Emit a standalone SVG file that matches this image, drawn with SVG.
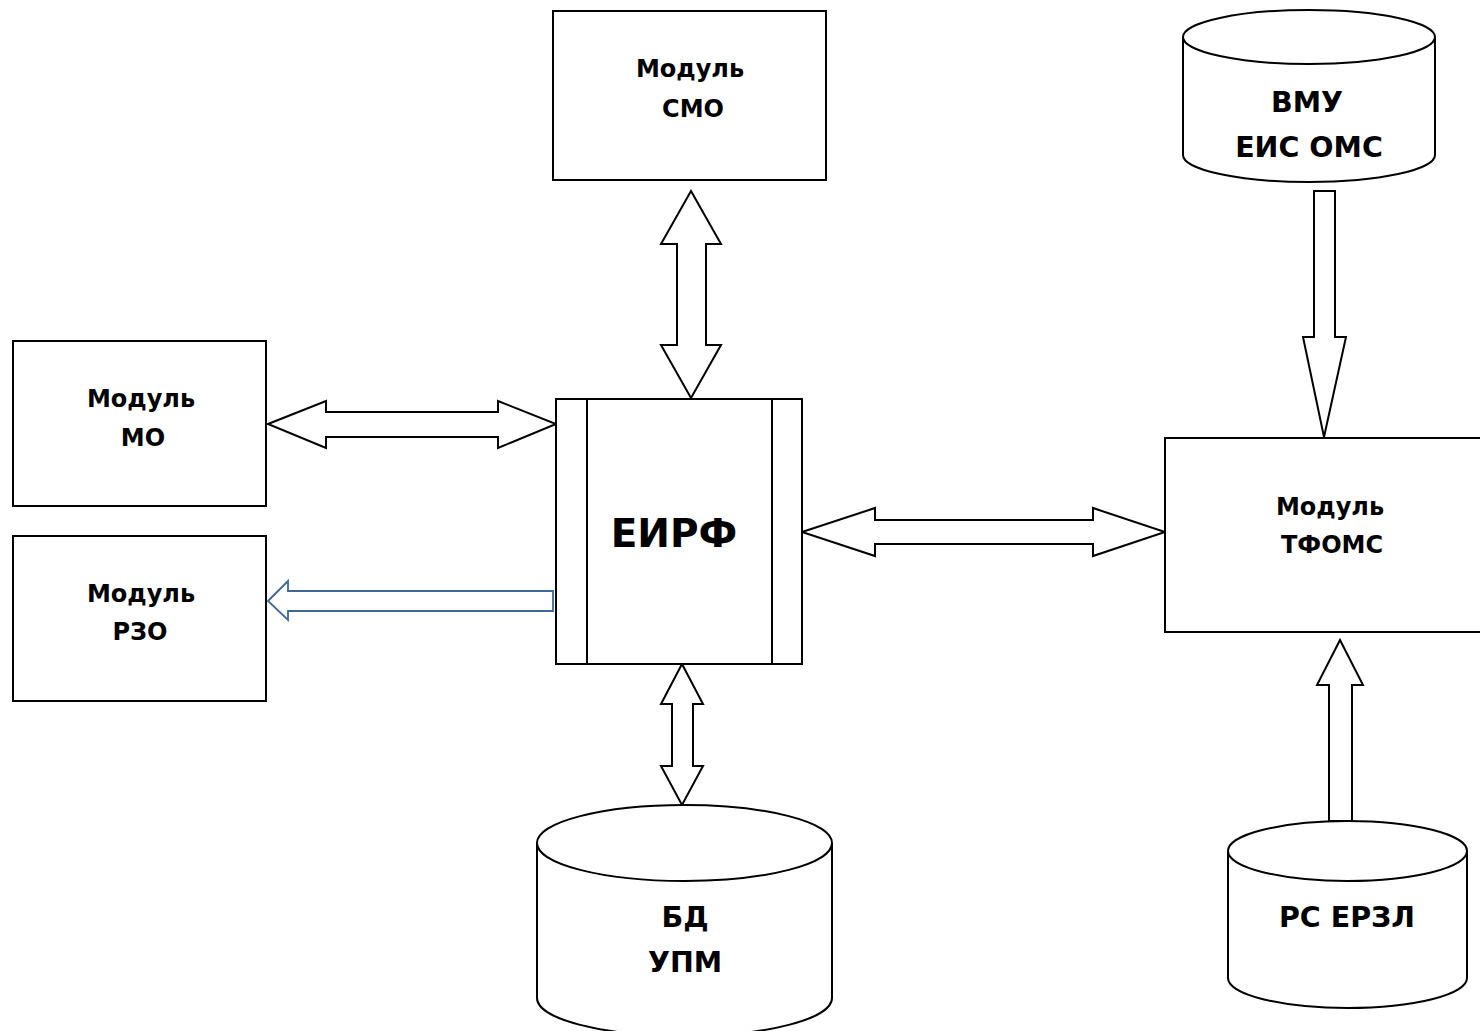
<svg xmlns="http://www.w3.org/2000/svg" width="1480" height="1031" viewBox="0 0 1480 1031">
<style>
  .box { fill: #fff; stroke: #000; stroke-width: 2; }
  .arr { fill: #fff; stroke: #000; stroke-width: 2; stroke-linejoin: miter; }
  .arrb { fill: #fff; stroke: #3D6797; stroke-width: 1.8; }
  .t { font-family: "DejaVu Sans", "Open Sans", "Liberation Sans", sans-serif; font-weight: bold; fill: #000; text-anchor: middle; }
  .s { font-size: 24px; }
  .m { font-size: 28.5px; }
  .l { font-size: 39px; }
</style>
<rect width="1480" height="1031" fill="#fff"/>

<g id="connectors">
  <!-- СМО <-> ЕИРФ -->
  <path class="arr" d="M691,191 L721,244 L706,244 L706,345 L721,345 L691,398 L661,345 L677,345 L677,244 L661,244 Z"/>
  <!-- МО <-> ЕИРФ -->
  <path class="arr" d="M268,424 L326,401 L326,412 L498,412 L498,401 L556,424 L498,448 L498,437 L326,437 L326,448 Z"/>
  <!-- ЕИРФ -> РЗО -->
  <path class="arrb" d="M268,601 L288,581 L288,591 L553,591 L553,611 L288,611 L288,620 Z"/>
  <!-- ЕИРФ <-> ТФОМС -->
  <path class="arr" d="M802,532 L875,508 L875,520 L1093,520 L1093,508 L1165,532 L1093,556 L1093,544 L875,544 L875,556 Z"/>
  <!-- ЕИРФ <-> БД УПМ -->
  <path class="arr" d="M682,664 L703,704 L693,704 L693,766 L703,766 L682,805 L661,766 L672,766 L672,704 L661,704 Z"/>
  <!-- ВМУ -> ТФОМС -->
  <path class="arr" d="M1314,191 L1335,191 L1335,337 L1346,337 L1324,437 L1303,337 L1314,337 Z"/>
  <!-- РС ЕРЗЛ -> ТФОМС -->
  <path class="arr" d="M1340,640 L1363,685 L1352,685 L1352,821 L1329,821 L1329,685 L1317,685 Z"/>
</g>

<g id="smo">
  <rect class="box" x="553" y="11" width="273" height="169"/>
  <text class="t s" x="690" y="77">Модуль</text>
  <text class="t s" x="693" y="117">СМО</text>
</g>

<g id="mo">
  <rect class="box" x="13" y="341" width="253" height="165"/>
  <text class="t s" x="141" y="407">Модуль</text>
  <text class="t s" x="143" y="446">МО</text>
</g>

<g id="rzo">
  <rect class="box" x="13" y="536" width="253" height="165"/>
  <text class="t s" x="141" y="602">Модуль</text>
  <text class="t s" x="140" y="640">РЗО</text>
</g>

<g id="eirf">
  <rect class="box" x="556" y="399" width="246" height="265"/>
  <line x1="587" y1="399" x2="587" y2="664" stroke="#000" stroke-width="2"/>
  <line x1="772" y1="399" x2="772" y2="664" stroke="#000" stroke-width="2"/>
  <text class="t l" x="674" y="547">ЕИРФ</text>
</g>

<g id="tfoms">
  <rect class="box" x="1165" y="438" width="330" height="194"/>
  <text class="t s" x="1330" y="515">Модуль</text>
  <text class="t s" x="1332" y="553">ТФОМС</text>
</g>

<g id="vmu">
  <path class="box" d="M1183,37 A126,27 0 0,1 1435,37 L1435,155 A126,27 0 0,1 1183,155 Z"/>
  <path d="M1183,37 A126,27 0 0,0 1435,37" fill="none" stroke="#000" stroke-width="2"/>
  <text class="t m" x="1307" y="112">ВМУ</text>
  <text class="t m" x="1309" y="157">ЕИС ОМС</text>
</g>

<g id="bd-upm">
  <path class="box" d="M537,843 A147.5,38 0 0,1 832,843 L832,998 A147.5,38 0 0,1 537,998 Z"/>
  <path d="M537,843 A147.5,38 0 0,0 832,843" fill="none" stroke="#000" stroke-width="2"/>
  <text class="t m" x="685" y="927">БД</text>
  <text class="t m" x="685" y="972">УПМ</text>
</g>

<g id="rs-erzl">
  <path class="box" d="M1228,851 A119.5,30 0 0,1 1467,851 L1467,978 A119.5,30 0 0,1 1228,978 Z"/>
  <path d="M1228,851 A119.5,30 0 0,0 1467,851" fill="none" stroke="#000" stroke-width="2"/>
  <text class="t m" x="1347" y="927" font-size="27">РС ЕРЗЛ</text>
</g>
</svg>
